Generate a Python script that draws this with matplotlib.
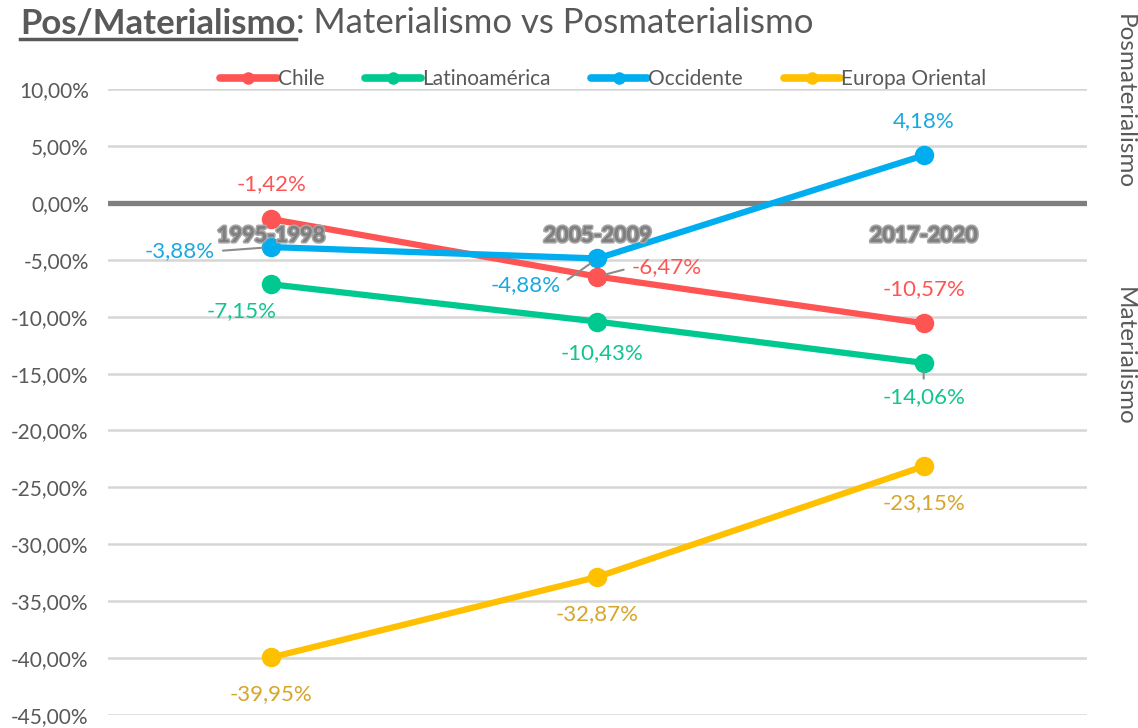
import matplotlib.pyplot as plt
import matplotlib.patheffects as pe
from matplotlib.ticker import FuncFormatter

periods = ["1995-1998", "2005-2009", "2017-2020"]
series_names = ["Chile", "Latinoamérica", "Occidente", "Europa Oriental"]
chile = [-1.42, -6.47, -10.57]
latam = [-7.15, -10.43, -14.06]
occidente = [-3.88, -4.88, 4.18]
europa_oriental = [-39.95, -32.87, -23.15]

line_colors = ["#FF5454", "#00C98F", "#00AEEF", "#FFC000"]
text_colors = ["#FF5454", "#12C48E", "#1AA8E0", "#D6A52A"]
# label offsets in points (dx, dy) per series/period
offsets = [
    [(0, 25), (50, 6.5), (0, 24.5)],
    [(-21, -19.5), (3, -23), (0, -24.5)],
    [(-66, -3), (-52, -19), (0, 25)],
    [(0, -26.5), (0, -26.5), (0, -26.5)],
]
# leader lines: (series, period) -> relpos on the text box
leaders = {(2, 0): (1, 0.5), (2, 1): (1, 0.5), (0, 1): (0, 0.5), (1, 2): (0.5, 1)}

plt.rcParams["font.family"] = ["Lato", "DejaVu Sans"]
grey = "#595959"

fig = plt.figure(figsize=(11.38, 7.28), dpi=100)
ax = fig.add_axes([0.095, 0.018, 0.86, 0.8595])

x = list(range(len(periods)))
all_values = [chile, latam, occidente, europa_oriental]
for i, (name, vals) in enumerate(zip(series_names, all_values)):
    ax.plot(x, vals, color=line_colors[i], lw=4.5, marker="o", ms=13,
            label=name, zorder=3, solid_capstyle="round")
    for j, v in enumerate(vals):
        dx, dy = offsets[i][j]
        txt = f"{v:.2f}%".replace(".", ",")
        kw = dict(xytext=(dx, dy), textcoords="offset points", ha="center",
                  va="center", fontsize=16, color=text_colors[i], zorder=4)
        if (i, j) in leaders:
            kw["arrowprops"] = dict(arrowstyle="-", color="#8C8C8C", lw=1.5,
                                    relpos=leaders[(i, j)], shrinkA=4, shrinkB=6)
        ax.annotate(txt, (j, v), **kw)

ax.set_xlim(-0.5, 2.5)
ax.set_ylim(-45, 10)
ax.set_yticks(range(-45, 11, 5))
ax.yaxis.set_major_formatter(FuncFormatter(lambda v, p: f"{v:.2f}%".replace(".", ",")))
ax.tick_params(axis="y", length=0, labelsize=15, labelcolor=grey, pad=14)
ax.set_xticks([])
ax.grid(axis="y", color="#D6D6D6", lw=1.8, zorder=0)
ax.axhline(0, color="#7F7F7F", lw=3.8, zorder=2)
for s in ax.spines.values():
    s.set_visible(False)

for j, p in enumerate(periods):
    ax.text(j, -2.85, p, ha="center", va="center", fontsize=15.5, fontweight="bold",
            color="#7F7F7F", zorder=5,
            path_effects=[pe.withStroke(linewidth=2.5, foreground="#A6A6A6"),
                          pe.Normal()])

leg = ax.legend(loc="center", bbox_to_anchor=(0.506, 1.0155), ncol=4, frameon=False,
                fontsize=15, labelcolor=grey, handlelength=2.7, columnspacing=1.95,
                handletextpad=0.05, borderaxespad=0, borderpad=0)
for h in leg.get_lines():
    h.set_markersize(8)
    h.set_linewidth(5.5)

# right-side labels
fig.text(0.988, 0.861, "Posmaterialismo", rotation=-90, ha="center", va="center",
         fontsize=17.5, color=grey)
fig.text(0.988, 0.511, "Materialismo", rotation=-90, ha="center", va="center",
         fontsize=17.5, color=grey)

# title: bold underlined part + regular part
t1 = fig.text(0.018, 0.968, "Pos/Materialismo", fontsize=25, fontweight="bold",
              color=grey, va="center", ha="left")
fig.canvas.draw()
bb = t1.get_window_extent().transformed(fig.transFigure.inverted())
fig.text(bb.x1, 0.968, ": Materialismo vs Posmaterialismo", fontsize=25,
         color=grey, va="center", ha="left")
fig.add_artist(plt.Line2D([bb.x0, bb.x1], [bb.y0 + 0.001, bb.y0 + 0.001],
                          color=grey, lw=2.5, transform=fig.transFigure))

fig.savefig("out.png", dpi=100)
